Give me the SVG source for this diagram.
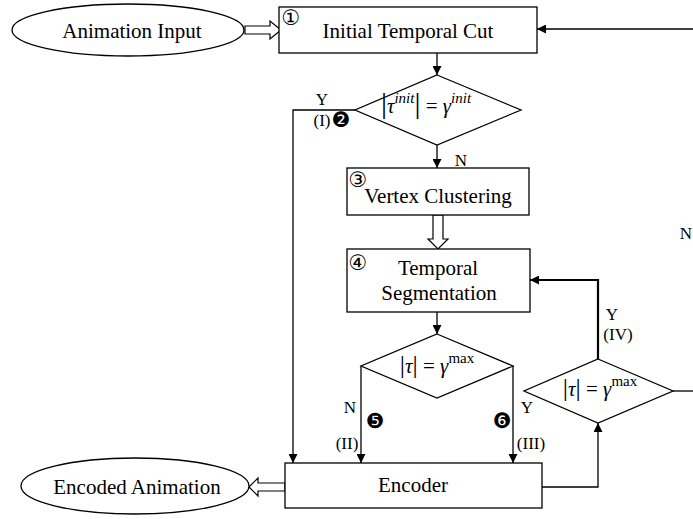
<svg xmlns="http://www.w3.org/2000/svg" width="693" height="519" viewBox="0 0 693 519">
<defs>
<marker id="ah" markerUnits="userSpaceOnUse" markerWidth="9" markerHeight="9" refX="9" refY="4.5" orient="auto">
<path d="M0,0 L9,4.5 L0,9 z" fill="#000"/>
</marker>
</defs>
<style>
.shape{fill:#fff;stroke:#000;stroke-width:1.3}
.line{fill:none;stroke:#000;stroke-width:1.3}
.big{fill:#fff;stroke:#000;stroke-width:1.2}
.t{font-family:"Liberation Serif","Times New Roman",serif;font-size:21px;fill:#000;text-anchor:middle}
.lab{font-family:"Liberation Serif","Times New Roman",serif;font-size:17px;fill:#000;text-anchor:middle}
.num{font-family:"DejaVu Sans","Noto Sans CJK SC",sans-serif;font-size:21px;fill:#000;text-anchor:middle}
.math{font-family:"Liberation Serif","DejaVu Serif",serif;font-size:21px;fill:#000;text-anchor:middle}
.it{font-style:italic}
</style>
<rect width="693" height="519" fill="#fff"/>

<g id="connectors">
<path class="line" d="M693,29 L537,29" marker-end="url(#ah)"/>
<path class="line" d="M437,53 L437,75" marker-end="url(#ah)"/>
<path class="line" d="M355,110 L293,110 L293,463" marker-end="url(#ah)"/>
<path class="line" d="M437,145 L437,168" marker-end="url(#ah)"/>
<path class="line" d="M437,312 L437,334" marker-end="url(#ah)"/>
<path class="line" d="M361,366 L361,463" marker-end="url(#ah)"/>
<path class="line" d="M513,366 L513,463" marker-end="url(#ah)"/>
<path class="line" d="M542,487 L598,487 L598,423" marker-end="url(#ah)"/>
<path class="line" d="M598,359 L598,280 L530,280" style="stroke-width:2.2" marker-end="url(#ah)"/>
<path class="line" d="M673,391 L693,391"/>
<path class="big" d="M245,26 L270,26 L270,21 L281,30 L270,39 L270,34 L245,34 z"/>
<path class="big" d="M433,215 L443,215 L443,239 L448,239 L438,249 L428,239 L433,239 z"/>
<path class="big" d="M285,483 L258,483 L258,478 L249,487 L258,496 L258,491 L285,491 z"/>
<text class="lab" x="322" y="105">Y</text>
<text class="lab" x="322" y="126">(I)</text>
<text class="num" x="341" y="127">❷</text>
<text class="lab" x="461" y="166">N</text>
<text class="lab" x="350" y="413">N</text>
<text class="num" x="375" y="428">❺</text>
<text class="lab" x="347" y="449">(II)</text>
<text class="lab" x="527" y="413">Y</text>
<text class="num" x="502" y="428">❻</text>
<text class="lab" x="531" y="449">(III)</text>
<text class="lab" x="612" y="320">Y</text>
<text class="lab" x="618" y="340">(IV)</text>
<text class="lab" x="686" y="239">N</text>
</g>

<g id="animation-input">
<ellipse class="shape" cx="128" cy="30" rx="116" ry="26"/>
<text class="t" x="132" y="38">Animation Input</text>
</g>

<g id="initial-temporal-cut">
<rect class="shape" x="279" y="7" width="258" height="46"/>
<text class="num" x="291" y="25">①</text>
<text class="t" x="408" y="38">Initial Temporal Cut</text>
</g>

<g id="decision-init">
<path class="shape" d="M437,75 L521,110 L437,145 L355,110 z"/>
<text class="math" x="426" y="113"><tspan font-size="30">|</tspan><tspan class="it">τ</tspan><tspan class="it" font-size="15" dy="-10">init</tspan><tspan font-size="30" dy="10">|</tspan> = <tspan class="it">γ</tspan><tspan class="it" font-size="15" dy="-10">init</tspan></text>
</g>

<g id="vertex-clustering">
<rect class="shape" x="347" y="168" width="182" height="47"/>
<text class="num" x="358" y="187">③</text>
<text class="t" x="438" y="203">Vertex Clustering</text>
</g>

<g id="temporal-segmentation">
<rect class="shape" x="347" y="249" width="183" height="63"/>
<text class="num" x="358" y="270">④</text>
<text class="t" x="438" y="275">Temporal</text>
<text class="t" x="439" y="300">Segmentation</text>
</g>

<g id="decision-max-1">
<path class="shape" d="M437,334 L513,366 L437,398 L361,366 z"/>
<text class="math" x="437" y="373"><tspan font-size="26">|</tspan><tspan class="it">τ</tspan><tspan font-size="26">|</tspan> = <tspan class="it">γ</tspan><tspan font-size="15" dy="-10">max</tspan></text>
</g>

<g id="decision-max-2">
<path class="shape" d="M598,359 L673,391 L598,423 L524,391 z"/>
<text class="math" x="600" y="396"><tspan font-size="26">|</tspan><tspan class="it">τ</tspan><tspan font-size="26">|</tspan> = <tspan class="it">γ</tspan><tspan font-size="15" dy="-10">max</tspan></text>
</g>

<g id="encoder">
<rect class="shape" x="285" y="463" width="257" height="45"/>
<text class="t" x="413" y="492">Encoder</text>
</g>

<g id="encoded-animation">
<ellipse class="shape" cx="135" cy="486" rx="114" ry="28"/>
<text class="t" x="137" y="494">Encoded Animation</text>
</g>
</svg>
